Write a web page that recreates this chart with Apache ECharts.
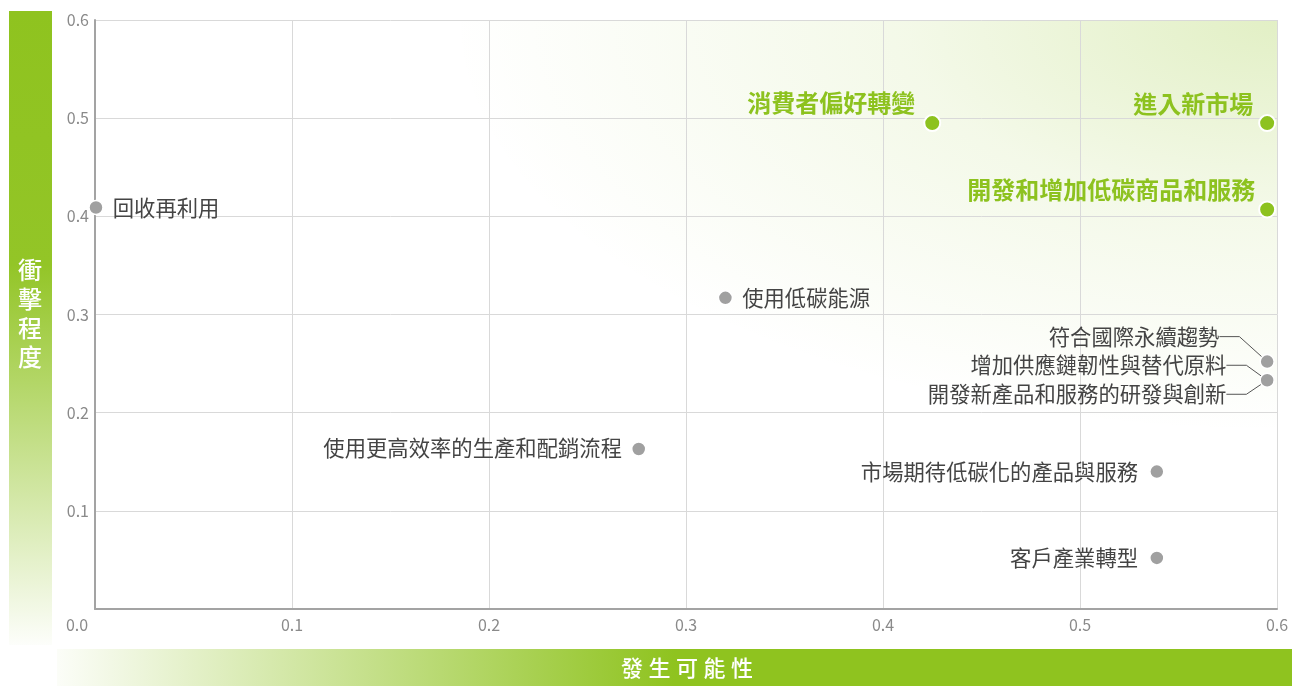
<!DOCTYPE html>
<html><head><meta charset="utf-8">
<script src="https://cdn.jsdelivr.net/npm/echarts@6/dist/echarts.min.js"></script>
<style>html,body{margin:0;padding:0;background:#fff}#c{width:1292px;height:686px}</style>
</head><body><div id="c"></div>
<script>
// ---- data ----
const axisTicks = [0, 0.1, 0.2, 0.3, 0.4, 0.5, 0.6];
const xAxisTitle = '發生可能性';
const yAxisTitle = '衝擊程度';

const greyNames = ['回收再利用', '使用低碳能源', '使用更高效率的生產和配銷流程', '符合國際永續趨勢',
  '增加供應鏈韌性與替代原料', '開發新產品和服務的研發與創新', '市場期待低碳化的產品與服務', '客戶產業轉型'];
const greyX = [0.0005, 0.32, 0.276, 0.595, 0.595, 0.595, 0.539, 0.539];
const greyY = [0.409, 0.317, 0.163, 0.252, 0.233, 0.233, 0.14, 0.052];

const greenNames = ['消費者偏好轉變', '進入新市場', '開發和增加低碳商品和服務'];
const greenX = [0.425, 0.595, 0.595];
const greenY = [0.495, 0.495, 0.407];

// ---- label placement (style, not data) ----
const placement = {
  '回收再利用': { pos: 'right', d: 9, off: [0, 0] },
  '使用低碳能源': { pos: 'right', d: 9, off: [0, 0] },
  '使用更高效率的生產和配銷流程': { pos: 'left', d: 9, off: [0, -1] },
  '符合國際永續趨勢': { pos: 'left', d: 5, off: [-35, -25], line: true },
  '增加供應鏈韌性與替代原料': { pos: 'left', d: 5, off: [-28, -15], line: true },
  '開發新產品和服務的研發與創新': { pos: 'left', d: 5, off: [-28, 14], line: true },
  '市場期待低碳化的產品與服務': { pos: 'left', d: 11, off: [0, 0] },
  '客戶產業轉型': { pos: 'left', d: 11, off: [0, 0] },
  '消費者偏好轉變': { pos: 'left', d: 8, off: [0, -20] },
  '進入新市場': { pos: 'left', d: 5, off: [0, -19] },
  '開發和增加低碳商品和服務': { pos: 'left', d: 3, off: [0, -20] }
};

const FONT = "'Noto Sans CJK TC', 'Noto Sans', sans-serif";
const GREEN = '#8dc21f';

function buildItems(names, xs, ys) {
  return names.map((n, i) => {
    const p = placement[n];
    const item = {
      name: n,
      value: [xs[i], ys[i]],
      label: { position: p.pos, distance: p.d, offset: p.off }
    };
    if (p.line) {
      item.labelLine = { show: true, length2: 20, lineStyle: { color: '#555', width: 1 } };
    }
    return item;
  });
}

const chart = echarts.init(document.getElementById('c'), null, { renderer: 'canvas' });

const axisCommon = {
  type: 'value', min: 0, max: 0.6, interval: 0.1,
  axisLine: { show: true, onZero: false, lineStyle: { color: '#a3a3a3', width: 2 } },
  axisTick: { show: false },
  splitLine: { show: true, lineStyle: { color: '#d9d9d9', width: 1 } }
};

const option = {
  animation: false,
  backgroundColor: '#ffffff',
  grid: { left: 95, right: 15, top: 20, bottom: 77, containLabel: false },
  xAxis: Object.assign({}, axisCommon, {
    axisLabel: {
      fontFamily: FONT, fontSize: 16, color: '#8a8a8a', margin: 8,
      customValues: axisTicks,
      formatter: v => v === 0 ? '{z|0.0}' : v.toFixed(1),
      rich: { z: { fontFamily: FONT, fontSize: 16, color: '#8a8a8a', padding: [0, 36, 0, 0] } }
    }
  }),
  yAxis: Object.assign({}, axisCommon, {
    axisLabel: {
      fontFamily: FONT, fontSize: 16, color: '#8a8a8a', margin: 6,
      formatter: v => v === 0 ? '' : v.toFixed(1)
    }
  }),
  graphic: [
    {
      type: 'rect', z: -20, silent: true,
      shape: { x: 9, y: 11, width: 43, height: 634 },
      style: {
        fill: new echarts.graphic.LinearGradient(0, 0, 0, 1, [
          { offset: 0, color: '#8fc31f' },
          { offset: 0.4, color: '#93c527' },
          { offset: 1, color: 'rgba(143,195,31,0.02)' }
        ])
      }
    },
    {
      type: 'text', z: 10, silent: true,
      style: {
        text: yAxisTitle.split('').join('\n'), x: 30, y: 313,
        fill: '#ffffff', font: '500 24px ' + FONT, lineHeight: 29,
        align: 'center', verticalAlign: 'middle'
      }
    },
    {
      type: 'rect', z: -20, silent: true,
      shape: { x: 57, y: 649, width: 1235, height: 37 },
      style: {
        fill: new echarts.graphic.LinearGradient(0, 0, 1, 0, [
          { offset: 0, color: 'rgba(143,195,31,0.03)' },
          { offset: 0.5, color: '#8fc31f' },
          { offset: 1, color: '#8fc31f' }
        ])
      }
    },
    {
      type: 'text', z: 10, silent: true,
      style: {
        text: xAxisTitle.split('').join('\u2005'), x: 687, y: 668,
        fill: '#ffffff', font: '500 22px ' + FONT,
        align: 'center', verticalAlign: 'middle'
      }
    }
  ],
  series: [
    {
      name: 'grey', type: 'scatter', z: 3,
      symbolSize: 14,
      itemStyle: { color: '#a0a0a0', borderColor: '#ffffff', borderWidth: 1.5, opacity: 1 },
      label: { show: true, formatter: '{b}', fontFamily: FONT, fontSize: 21.33, color: '#444444' },
      emphasis: { disabled: true },
      data: buildItems(greyNames, greyX, greyY)
    },
    {
      name: 'green', type: 'scatter', z: 4,
      symbolSize: 16,
      itemStyle: { color: GREEN, borderColor: '#ffffff', borderWidth: 2, opacity: 1 },
      label: { show: true, formatter: '{b}', fontFamily: FONT, fontSize: 24, fontWeight: 'bold', color: GREEN },
      emphasis: { disabled: true },
      data: buildItems(greenNames, greenX, greenY)
    }
  ]
};

chart.setOption(option);

// elliptical radial glow in the plot area, anchored at the top-right corner
const pTL = chart.convertToPixel({ gridIndex: 0 }, [0, 0.6]);
const pBR = chart.convertToPixel({ gridIndex: 0 }, [0.6, 0]);
const gw = pBR[0] - pTL[0], gh = pBR[1] - pTL[1];
option.graphic.push({
  type: 'rect', z: -10, silent: true,
  x: pTL[0], y: pTL[1], scaleX: 2, scaleY: 1,
  shape: { x: 0, y: 0, width: gw / 2, height: gh },
  style: {
    fill: new echarts.graphic.RadialGradient(1, 0, 0.7, [
      { offset: 0, color: 'rgba(143,195,31,0.26)' },
      { offset: 0.45, color: 'rgba(143,195,31,0.10)' },
      { offset: 1, color: 'rgba(143,195,31,0)' }
    ])
  }
});
chart.setOption({ graphic: option.graphic });
</script>
</body></html>
